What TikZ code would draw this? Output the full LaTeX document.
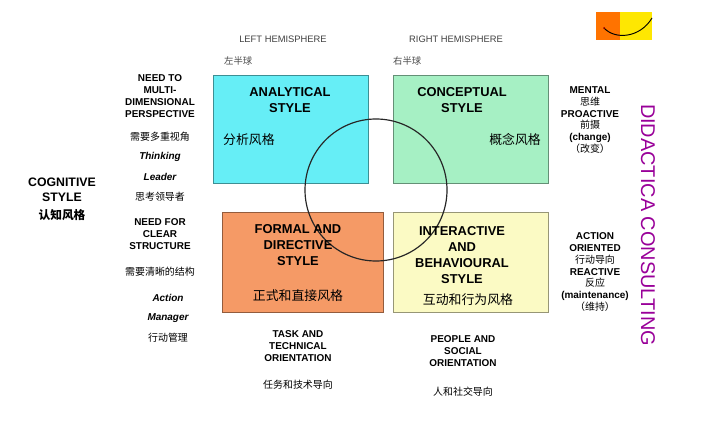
\documentclass[tikz,border=0pt]{standalone}
\usepackage{fontspec}
\setmainfont{Liberation Sans}
\newfontfamily\cjk{Noto Sans CJK SC}
\definecolor{cya}{HTML}{66EEF6}
\definecolor{grn}{HTML}{A6F0C4}
\definecolor{org}{HTML}{F59A66}
\definecolor{yel}{HTML}{FBFAC4}
\begin{document}
\begin{tikzpicture}[x=0.03cm,y=-0.03cm,
  box/.style={draw=#1!60!black, line width=0.4pt},
  lbl/.style={align=center,font=\bfseries\fontsize{8.5}{10}\selectfont},
  hd/.style={font=\fontsize{8}{10}\selectfont,text=black!75},
  tt/.style={align=center,font=\bfseries\fontsize{11}{13.5}\selectfont},
  cn/.style={font=\cjk\fontsize{11}{13}\selectfont}]
\useasboundingbox (0,0) rectangle (702,426);
\fill[white] (0,0) rectangle (702,426);
% logo
\fill[orange!90!red] (596,12) rectangle (620,40);
\fill[yellow!90!orange] (620,12) rectangle (652,40);
\draw[line width=0.8pt] (604,28) .. controls (615,40) and (640,38) .. (652,18);
\fill[red!60!black] (604,28) circle (1);
% boxes
\node[box=cya, fill=cya, minimum width=155*0.03cm, minimum height=108*0.03cm, anchor=north west] (a) at (213,75) {};
\node[box=grn, fill=grn, minimum width=155*0.03cm, minimum height=108*0.03cm, anchor=north west] (c) at (393,75) {};
\node[box=org, fill=org, minimum width=161*0.03cm, minimum height=100*0.03cm, anchor=north west] (f) at (222,212) {};
\node[box=yel, fill=yel, minimum width=155*0.03cm, minimum height=100*0.03cm, anchor=north west] (i) at (393,212) {};
\draw[line width=1pt,black!85] (376,190) circle (71);
\node[tt] (at) at (290,100) {ANALYTICAL\\STYLE};
\node[cn,anchor=west] (ac) at (219,140) {分析风格};
\node[tt] (ct) at (462,100) {CONCEPTUAL\\STYLE};
\node[cn,anchor=east] (cc) at (545,140) {概念风格};
\node[tt] (ft) at (298,245) {FORMAL AND\\DIRECTIVE\\STYLE};
\node[cn] (fc) at (298,296) {正式和直接风格};
\node[tt] (it) at (462,255) {INTERACTIVE\\AND\\BEHAVIOURAL\\STYLE};
\node[cn] (ic) at (468,300) {互动和行为风格};
% headings
\node[hd] (lh) at (283,39) {LEFT HEMISPHERE};
\node[cn,font=\cjk\fontsize{8}{10}\selectfont,text=black!70,anchor=west] (lhc) at (220,61) {左半球};
\node[hd] (rh) at (456,39) {RIGHT HEMISPHERE};
\node[cn,font=\cjk\fontsize{8}{10}\selectfont,text=black!70,anchor=west] (rhc) at (389,61) {右半球};
% left
\node[lbl,font=\bfseries\fontsize{10.5}{13}\selectfont] (cs) at (62,190) {COGNITIVE\\STYLE};
\node[cn,font=\cjk\bfseries\fontsize{10}{12}\selectfont] (csc) at (62,215) {认知风格};
\node[lbl] (n1) at (160,96) {NEED TO\\MULTI-\\DIMENSIONAL\\PERSPECTIVE};
\node[cn,font=\cjk\fontsize{8.5}{10}\selectfont] (n1c) at (160,137) {需要多重视角};
\node[lbl,font=\bfseries\itshape\fontsize{8.5}{10}\selectfont] (th) at (160,157) {Thinking};
\node[lbl,font=\bfseries\itshape\fontsize{8.5}{10}\selectfont] (le) at (160,177) {Leader};
\node[cn,font=\cjk\itshape\fontsize{8.5}{10}\selectfont] (lec) at (160,197) {思考领导者};
\node[lbl] (n2) at (160,234) {NEED FOR\\CLEAR\\STRUCTURE};
\node[cn,font=\cjk\fontsize{8.5}{10}\selectfont] (n2c) at (160,272) {需要清晰的结构};
\node[lbl,font=\bfseries\itshape\fontsize{8.5}{10}\selectfont] (ac2) at (168,298) {Action};
\node[lbl,font=\bfseries\itshape\fontsize{8.5}{10}\selectfont] (ma) at (168,318) {Manager};
\node[cn,font=\cjk\itshape\fontsize{8.5}{10}\selectfont] (mac) at (168,338) {行动管理};
% bottom
\node[lbl] (tk) at (298,346) {TASK AND\\TECHNICAL\\ORIENTATION};
\node[cn,font=\cjk\fontsize{8.5}{10}\selectfont] (tkc) at (298,385) {任务和技术导向};
\node[lbl] (pp) at (463,351) {PEOPLE AND\\SOCIAL\\ORIENTATION};
\node[cn,font=\cjk\fontsize{8.5}{10}\selectfont] (ppc) at (463,392) {人和社交导向};
% right
\node[lbl,align=center] (r1) at (590,120) {MENTAL\\{\cjk\mdseries 思维}\\PROACTIVE\\{\cjk\mdseries 前摄}\\(change)\\{\cjk\mdseries （改变）}};
\node[lbl,align=center] (r2) at (595,272) {ACTION\\ORIENTED\\{\cjk\mdseries 行动导向}\\REACTIVE\\{\cjk\mdseries 反应}\\(maintenance)\\{\cjk\mdseries （维持）}};
\node[rotate=-90,text=violet!80!magenta,font=\fontsize{17}{19}\selectfont] (dc) at (648,225) {DIDACTICA CONSULTING};
\end{tikzpicture}
\end{document}
